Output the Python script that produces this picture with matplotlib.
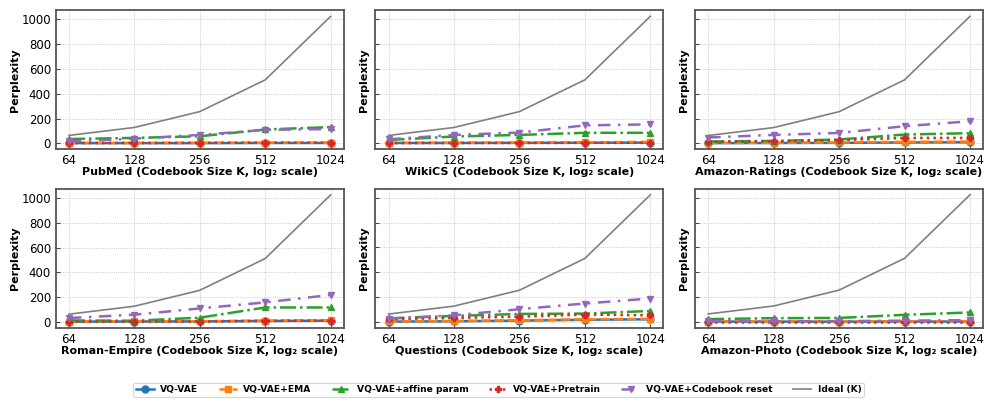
import matplotlib
matplotlib.use("Agg")
import matplotlib.pyplot as plt

K = [64, 128, 256, 512, 1024]

DATASETS = ["PubMed", "WikiCS", "Amazon-Ratings",
            "Roman-Empire", "Questions", "Amazon-Photo"]

# perplexity per dataset
vqvae = {
    "PubMed":         [2, 2, 2, 3, 3],
    "WikiCS":         [3, 3, 4, 5, 6],
    "Amazon-Ratings": [3, 4, 5, 8, 10],
    "Roman-Empire":   [4, 5, 6, 9, 12],
    "Questions":      [3, 6, 11, 18, 22],
    "Amazon-Photo":   [2, 2, 2, 3, 3],
}
vqvae_ema = {
    "PubMed":         [3, 3, 4, 5, 6],
    "WikiCS":         [4, 5, 6, 8, 12],
    "Amazon-Ratings": [5, 5, 8, 13, 16],
    "Roman-Empire":   [5, 8, 8, 12, 15],
    "Questions":      [5, 8, 14, 22, 25],
    "Amazon-Photo":   [3, 3, 3, 4, 5],
}
vqvae_affine = {
    "PubMed":         [35, 44, 57, 112, 131],
    "WikiCS":         [27, 55, 68, 85, 85],
    "Amazon-Ratings": [16, 21, 32, 72, 83],
    "Roman-Empire":   [14, 11, 36, 118, 118],
    "Questions":      [30, 49, 65, 68, 89],
    "Amazon-Photo":   [22, 30, 32, 57, 76],
}
vqvae_pretrain = {
    "PubMed":         [3, 3, 4, 5, 5],
    "WikiCS":         [2, 3, 3, 4, 4],
    "Amazon-Ratings": [13, 16, 27, 45, 45],
    "Roman-Empire":   [5, 5, 5, 10, 12],
    "Questions":      [22, 33, 43, 60, 54],
    "Amazon-Photo":   [2, 2, 2, 2, 2],
}
vqvae_reset = {
    "PubMed":         [16, 38, 68, 109, 115],
    "WikiCS":         [33, 68, 87, 145, 153],
    "Amazon-Ratings": [48, 69, 85, 139, 179],
    "Roman-Empire":   [33, 60, 110, 159, 219],
    "Questions":      [27, 54, 103, 149, 189],
    "Amazon-Photo":   [5, 5, 6, 10, 14],
}

SERIES = [
    ("VQ-VAE", vqvae, "#1f77b4", "-", "o"),
    ("VQ-VAE+EMA", vqvae_ema, "#ff7f0e", "--", "s"),
    ("VQ-VAE+affine param", vqvae_affine, "#2ca02c", "-.", "^"),
    ("VQ-VAE+Pretrain", vqvae_pretrain, "#d62728", ":", "P"),
    ("VQ-VAE+Codebook reset", vqvae_reset, "#9467bd", (0, (5, 3, 1, 3)), "v"),
]

fig, axes = plt.subplots(2, 3, figsize=(9.97, 3.99), dpi=100)
fig.subplots_adjust(left=0.056, right=0.986, top=0.975, bottom=0.178,
                    wspace=0.11, hspace=0.28)

for ax, name in zip(axes.flat, DATASETS):
    for label, data, color, ls, mk in SERIES:
        ax.plot(K, data[name], color=color, linestyle=ls, marker=mk,
                markersize=5, linewidth=1.8, label=label)
    ax.plot(K, K, color="gray", linewidth=1.2, label="Ideal (K)")

    ax.set_xscale("log", base=2)
    ax.set_xticks(K)
    ax.set_xticklabels([str(k) for k in K])
    ax.minorticks_off()
    ax.set_yticks([0, 200, 400, 600, 800, 1000])
    ax.tick_params(direction="in", labelsize=8.5, length=3, color="#444444")
    ax.grid(True, linestyle=":", linewidth=0.6, color="#bbbbbb")
    for sp in ax.spines.values():
        sp.set_color("#555555")
        sp.set_linewidth(1.3)
    ax.set_xlabel(f"{name} (Codebook Size K, log\u2082 scale)",
                  fontsize=8, fontweight="bold", labelpad=0)
    ax.set_ylabel("Perplexity", fontsize=8, fontweight="bold", labelpad=1)
    if ax not in (axes[0, 0], axes[1, 0]):
        ax.set_yticklabels([])

handles, labels = axes[0, 0].get_legend_handles_labels()
leg = fig.legend(handles, labels, loc="center", ncol=6,
                 bbox_to_anchor=(0.5, 0.023), frameon=True,
                 prop={"size": 6.6, "weight": "bold"}, handlelength=2.0,
                 handletextpad=0.7, columnspacing=2.2, borderpad=0.3)
leg.get_frame().set_edgecolor("#cccccc")
leg.get_frame().set_linewidth(0.8)

fig.savefig("out.png", dpi=100)
